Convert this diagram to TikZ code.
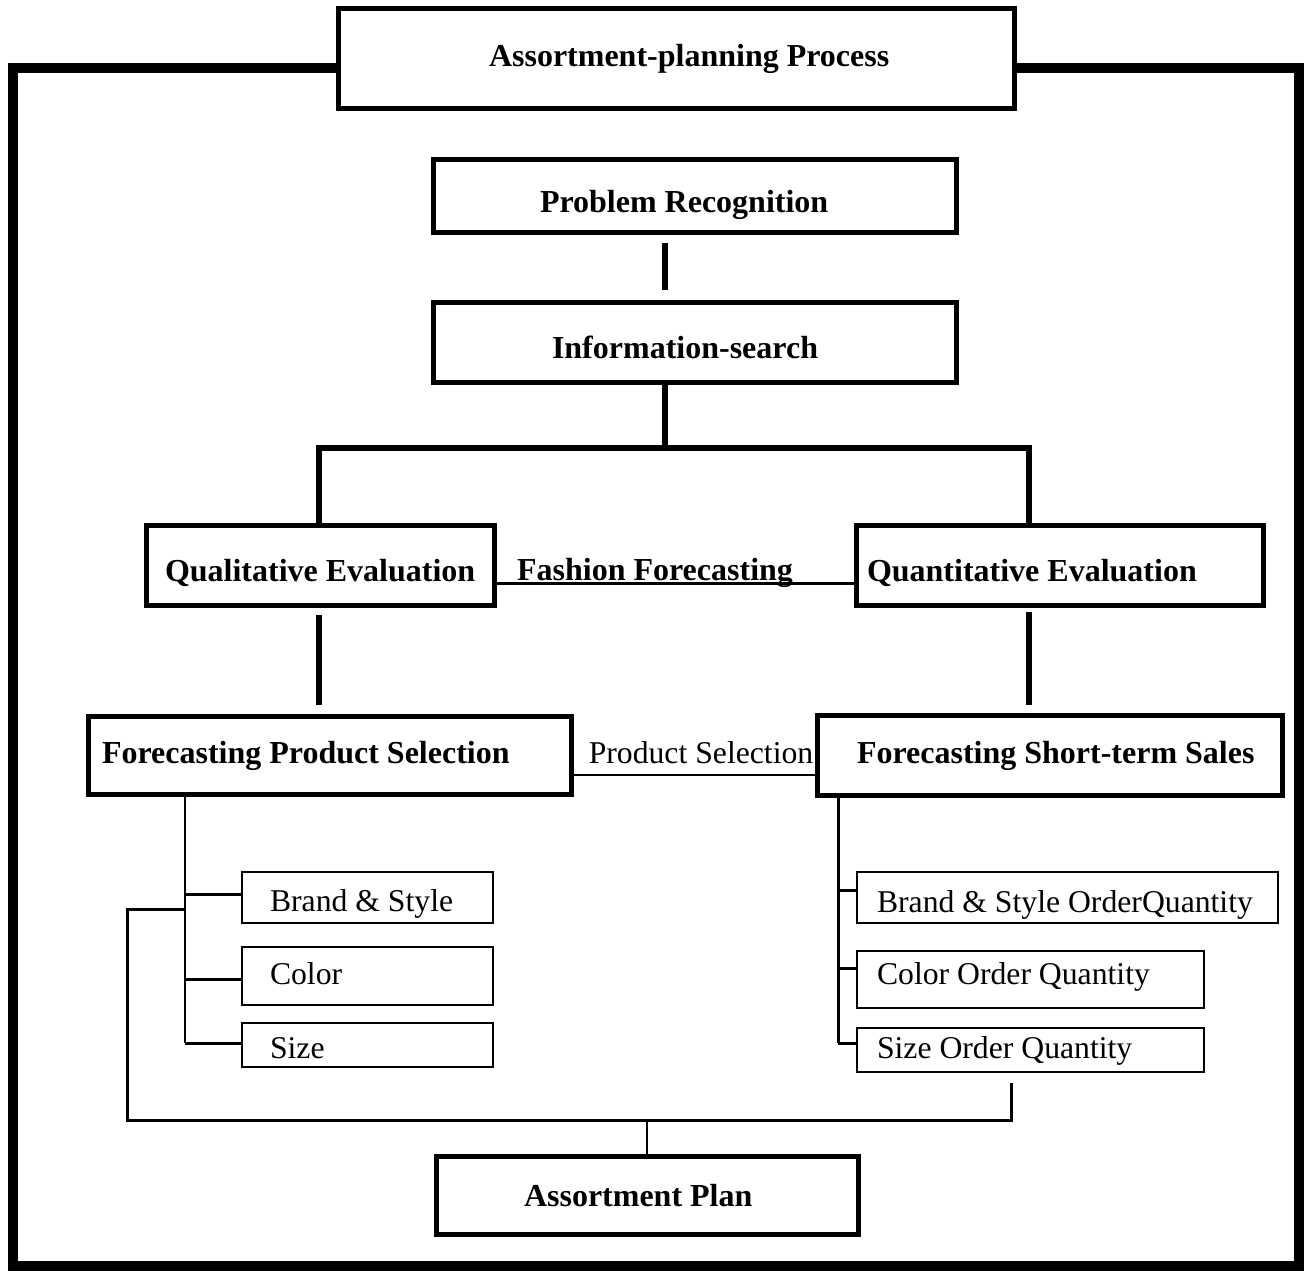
\documentclass[tikz,border=0pt]{standalone}
\usepackage{fontspec}
\setmainfont{Liberation Serif}
\usetikzlibrary{calc}

% fixed-width, left-aligned line of box text
\newcommand\lt[2]{\makebox[#1pt][l]{#2}}

\tikzset{
  every node/.style={inner sep=0pt, font=\fontsize{31.7}{36}\selectfont},
  bigbox/.style={draw, line width=5pt, text depth=0pt,
                 font=\fontsize{32}{38}\selectfont\bfseries},
  smallbox/.style={draw, line width=2pt, text depth=0pt},
  boldlabel/.style={anchor=base, font=\fontsize{32}{38}\selectfont\bfseries},
  plainlabel/.style={anchor=base},
  heavy/.style={line width=6pt},
  mid/.style={line width=3pt},
  slim/.style={line width=2pt},
  hair/.style={line width=1.5pt},
  frame/.style={line width=10pt},
}

\begin{document}
\begin{tikzpicture}[x=1pt, y=-1pt]
\fill[white] (0,0) rectangle (1304,1273);
\useasboundingbox (0,0) rectangle (1304,1273);

% boxes
\node[bigbox, minimum width=676, minimum height=100, inner xsep=151, text height=16pt]
  (title) at (676,59) {\lt{374}{Assortment-planning Process}};
\node[bigbox, minimum width=523, minimum height=73, inner xsep=107, text height=33pt]
  (prob) at (694.5,196.5) {\lt{309}{Problem Recognition}};
\node[bigbox, minimum width=523, minimum height=79, inner xsep=119, text height=33pt]
  (info) at (694.5,342.5) {\lt{285}{Information-search}};
\node[bigbox, minimum width=348, minimum height=80, inner xsep=19, text height=32pt]
  (qual) at (320,565) {\lt{310}{Qualitative Evaluation}};
\node[bigbox, minimum width=407, minimum height=80, inner xsep=11, text height=32pt]
  (quant) at (1059.5,565) {\lt{385}{Quantitative Evaluation}};
\node[bigbox, minimum width=483, minimum height=78, inner xsep=14, text height=16pt]
  (fps) at (329.5,755) {\lt{455}{Forecasting Product Selection}};
\node[bigbox, minimum width=465, minimum height=80, inner xsep=40, text height=16pt]
  (fst) at (1049.5,755) {\lt{385}{Forecasting Short-term Sales}};

\node[smallbox, minimum width=251, minimum height=51, inner xsep=28, text height=27pt]
  (brand) at (367.5,897.5) {\lt{195}{Brand \& Style}};
\node[smallbox, minimum width=251, minimum height=58, inner xsep=28, text height=16pt]
  (color) at (367.5,976) {\lt{195}{Color}};
\node[smallbox, minimum width=251, minimum height=44, inner xsep=28, text height=26pt]
  (size) at (367.5,1045) {\lt{195}{Size}};

\node[smallbox, minimum width=421, minimum height=51, inner xsep=20, text height=29pt]
  (brandq) at (1067.5,897.5) {\lt{381}{Brand \& Style OrderQuantity}};
\node[smallbox, minimum width=347, minimum height=57, inner xsep=20, text height=9pt]
  (colorq) at (1030.5,979.5) {\lt{307}{Color Order Quantity}};
\node[smallbox, minimum width=347, minimum height=44, inner xsep=20, text height=16pt]
  (sizeq) at (1030.5,1050) {\lt{307}{Size Order Quantity}};

\node[bigbox, minimum width=422, minimum height=78, inner xsep=88, text height=22pt]
  (plan) at (647,1195) {\lt{246}{Assortment Plan}};

% outer frame hanging from the title box
\draw[frame] (title.west |- 0,68) -- (13,68) -- (13,1266) -- (1299,1266)
  -- (1299,68) -- (title.east |- 0,68);

% main spine
\coordinate (jc) at (665,448);
\coordinate (jl) at (319,448);
\coordinate (jr) at (1029,448);
\draw[heavy] ($(prob.south -| jc)+(0,8)$) -- ($(info.north -| jc)+(0,-10)$);
\draw[heavy] (info.south -| jc) -- (jc);
\draw[heavy] (qual.north -| jl) -- (jl) -- (jr) -- (quant.north -| jr);
\draw[heavy] ($(qual.south -| jl)+(0,7)$) -- ($(fps.north -| jl)+(0,-9)$);
\draw[heavy] ($(quant.south -| jr)+(0,4)$) -- ($(fst.north -| jr)+(0,-8)$);

% cross links with their labels
\draw[mid] (qual.east |- 0,583) -- (quant.west |- 0,583);
\node[boldlabel] (fashion) at (655,580) {Fashion Forecasting};
\draw[slim] (fps.east |- 0,775) -- (fst.west |- 0,775);
\node[plainlabel] (prodsel) at (701,763) {Product Selection};

% left branch
\coordinate (tl) at (185,1043);
\draw[hair] (fps.south -| tl) -- (tl);
\draw[mid] (tl |- 0,894) -- (brand.west |- 0,894);
\draw[mid] (tl |- 0,979) -- (color.west |- 0,979);
\draw[mid] (tl) -- (size.west |- tl);

% right branch
\coordinate (tr) at (838,1043);
\draw[mid] (fst.south -| tr) -- (tr);
\draw[mid] (tr |- 0,890) -- (brandq.west |- 0,890);
\draw[mid] (tr |- 0,968) -- (colorq.west |- 0,968);
\draw[mid] (tr) -- (sizeq.west |- tr);

% merge into the plan
\coordinate (merge) at (647,1120);
\coordinate (stub) at (1011,1083);
\draw[mid] (tl |- 0,909) -- (127,909) -- (127,1120) -- (stub |- merge) -- (stub);
\draw[slim] (merge) -- (plan.north);
\end{tikzpicture}
\end{document}
